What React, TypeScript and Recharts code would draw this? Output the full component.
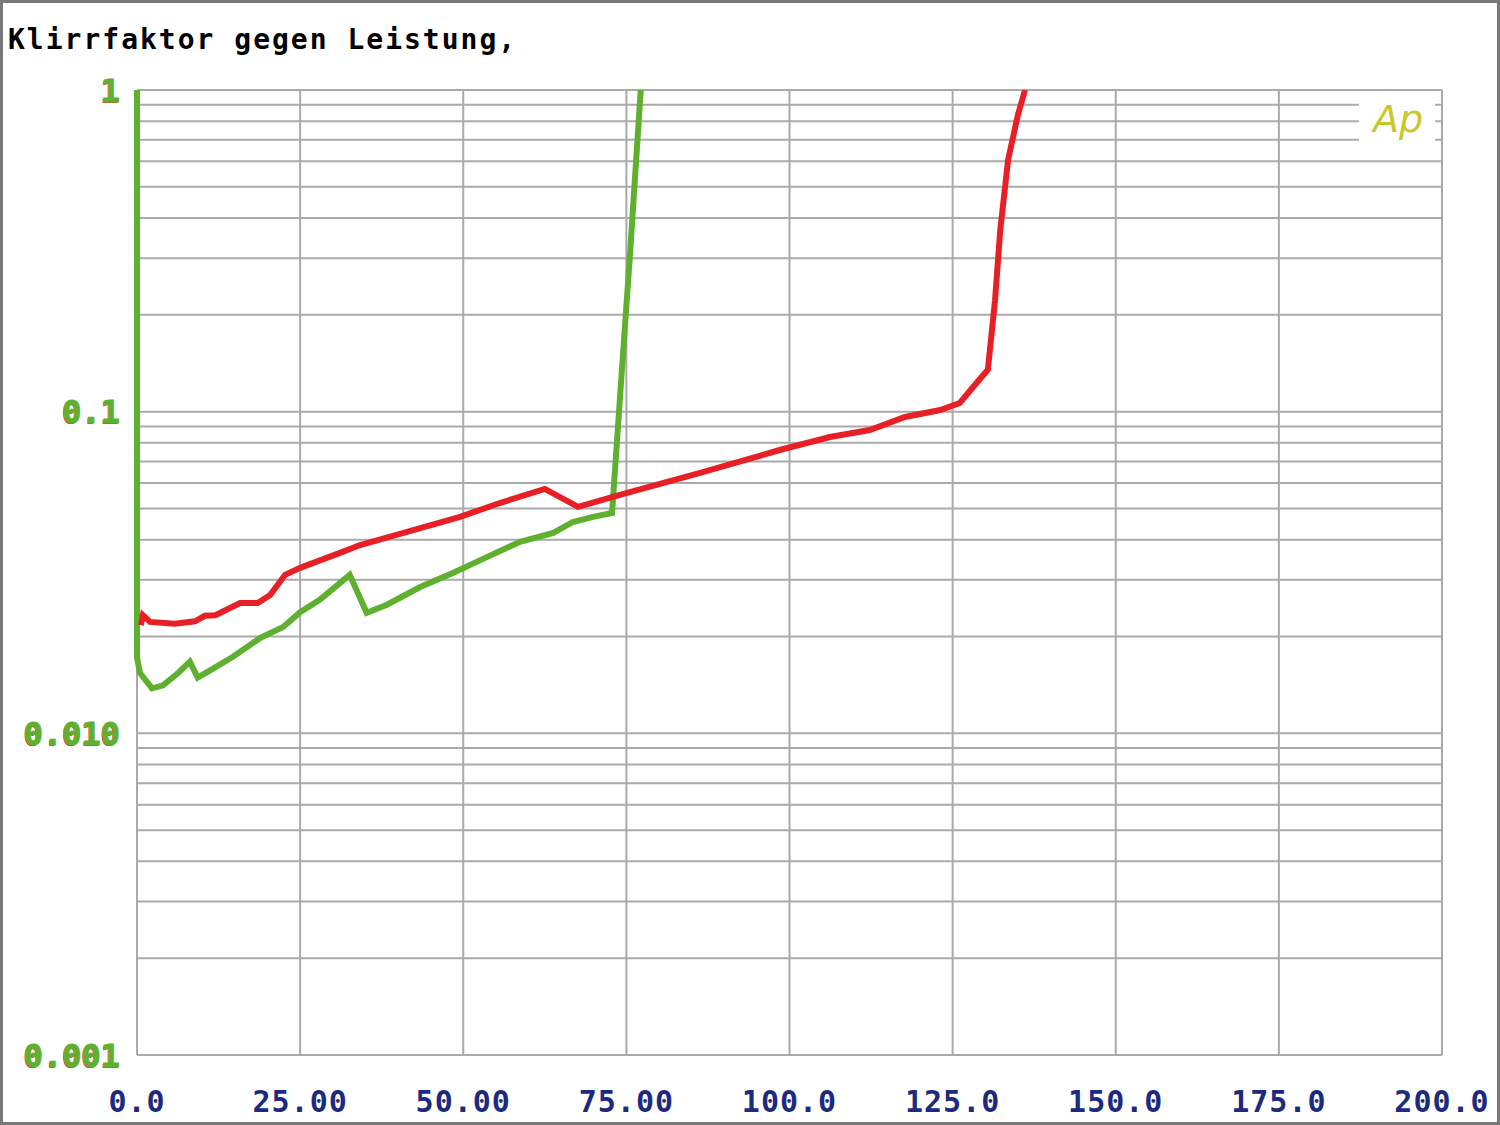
import { CartesianGrid, Line, LineChart, XAxis, YAxis } from 'recharts';

// Distortion vs. power.
const redPower = [0.6, 0.9, 2.0, 5.8, 8.9, 10.4, 12.0, 15.8, 18.5, 20.4, 22.7, 25.0, 31.1, 34.2, 40.3, 49.5, 55.6, 62.5, 67.6, 74.0, 86.3, 98.5, 106.2, 112.3, 117.7, 123.1, 126.1, 128.4, 130.4, 131.5, 132.3, 133.5, 135.0, 136.1];
const redThd = [0.0217, 0.0233, 0.0222, 0.0219, 0.0223, 0.0232, 0.0233, 0.0254, 0.0254, 0.0269, 0.0311, 0.0327, 0.0364, 0.0385, 0.0417, 0.0471, 0.052, 0.0575, 0.0506, 0.0551, 0.0645, 0.076, 0.0834, 0.0877, 0.0963, 0.1012, 0.1064, 0.121, 0.135, 0.222, 0.367, 0.606, 0.836, 1.0];

const greenPower = [0, 0, 0.46, 2.3, 4.0, 6.3, 8.1, 9.3, 11.2, 14.7, 18.9, 22.4, 25.0, 28.0, 32.6, 35.2, 38.3, 43.4, 48.4, 53.6, 58.7, 63.8, 66.8, 69.9, 72.8, 74.0, 75.6, 77.2];
const greenThd = [1.0, 0.0172, 0.0154, 0.0138, 0.0141, 0.0154, 0.0167, 0.0149, 0.0157, 0.0173, 0.0198, 0.0214, 0.0238, 0.026, 0.0311, 0.0237, 0.0251, 0.0285, 0.0315, 0.0353, 0.0394, 0.042, 0.0454, 0.0471, 0.0484, 0.109, 0.318, 1.0];

const xTicks = [0, 25, 50, 75, 100, 125, 150, 175, 200];
const xLabels = ['0.0', '25.00', '50.00', '75.00', '100.0', '125.0', '150.0', '175.0', '200.0'];
const yMajor = [0.001, 0.01, 0.1, 1];
const yLabels = ['0.001', '0.010', '0.1', '1'];
const yGrid = [
  0.001, 0.002, 0.003, 0.004, 0.005, 0.006, 0.007, 0.008, 0.009,
  0.01, 0.02, 0.03, 0.04, 0.05, 0.06, 0.07, 0.08, 0.09,
  0.1, 0.2, 0.3, 0.4, 0.5, 0.6, 0.7, 0.8, 0.9, 1,
];

const red = 'rgb(232, 32, 38)';
const green = 'rgb(96, 176, 48)';
const gridGray = 'rgb(170, 170, 170)';
const navy = 'rgb(28, 42, 128)';
const mono = '"DejaVu Sans Mono", "Liberation Mono", monospace';

const redData = redPower.map((x, i) => ({ x, y: redThd[i] }));
const greenData = greenPower.map((x, i) => ({ x, y: greenThd[i] }));

function YTick(props: any) {
  const { x, y, payload } = props;
  const idx = yMajor.findIndex((v) => Math.abs(v - payload.value) < 1e-9);
  if (idx < 0) return null;
  const label = yLabels[idx];
  return (
    <g>
      <text x={x - 1} y={y + 1} dy="0.36em" textAnchor="end" fill={red} fontFamily={mono} fontWeight="bold" fontSize={32}>
        {label}
      </text>
      <text x={x} y={y} dy="0.36em" textAnchor="end" fill={green} fontFamily={mono} fontWeight="bold" fontSize={32} stroke={green} strokeWidth={1}>
        {label}
      </text>
    </g>
  );
}

export default function App() {
  return (
    <div
      style={{
        position: 'absolute',
        left: 0,
        top: 0,
        width: 1500,
        height: 1125,
        boxSizing: 'border-box',
        border: '3px solid rgb(120, 120, 120)',
        background: '#fff',
        overflow: 'hidden',
      }}
    >
      <div
        style={{
          position: 'absolute',
          left: 5,
          top: 20,
          fontFamily: mono,
          fontWeight: 'bold',
          fontSize: 28,
          letterSpacing: 2,
          color: '#000',
          whiteSpace: 'pre',
        }}
      >
        Klirrfaktor gegen Leistung,
      </div>
      <div style={{ position: 'absolute', left: -3, top: -3 }}>
        <LineChart width={1500} height={1125} margin={{ top: 90, right: 58, bottom: 10, left: 7 }}>
          <CartesianGrid stroke={gridGray} strokeWidth={2} />
          <XAxis
            dataKey="x"
            type="number"
            domain={[0, 200]}
            ticks={xTicks}
            interval={0}
            tickFormatter={(v: number) => xLabels[xTicks.indexOf(v)] ?? ''}
            axisLine={false}
            tickLine={false}
            tickSize={0}
            tickMargin={36}
            height={60}
            tick={{ fill: navy, fontSize: 30, fontFamily: mono, fontWeight: 'bold', letterSpacing: 1 }}
          />
          <YAxis
            type="number"
            scale="log"
            domain={[0.001, 1]}
            ticks={yGrid}
            interval={0}
            allowDataOverflow
            axisLine={false}
            tickLine={false}
            tickSize={0}
            tickMargin={17}
            width={130}
            tick={<YTick />}
          />
          <Line data={greenData} dataKey="y" type="linear" stroke={green} strokeWidth={6} dot={false} isAnimationActive={false} />
          <Line data={redData} dataKey="y" type="linear" stroke={red} strokeWidth={6} dot={false} isAnimationActive={false} />
        </LineChart>
      </div>
      <div
        style={{
          position: 'absolute',
          left: 1356,
          top: 94,
          width: 76,
          height: 54,
          background: '#fff',
          color: 'rgb(200, 200, 40)',
          fontFamily: '"DejaVu Sans", sans-serif',
          fontStyle: 'italic',
          fontSize: 38,
          paddingLeft: 14,
          boxSizing: 'border-box',
        }}
      >
        Ap
      </div>
    </div>
  );
}
